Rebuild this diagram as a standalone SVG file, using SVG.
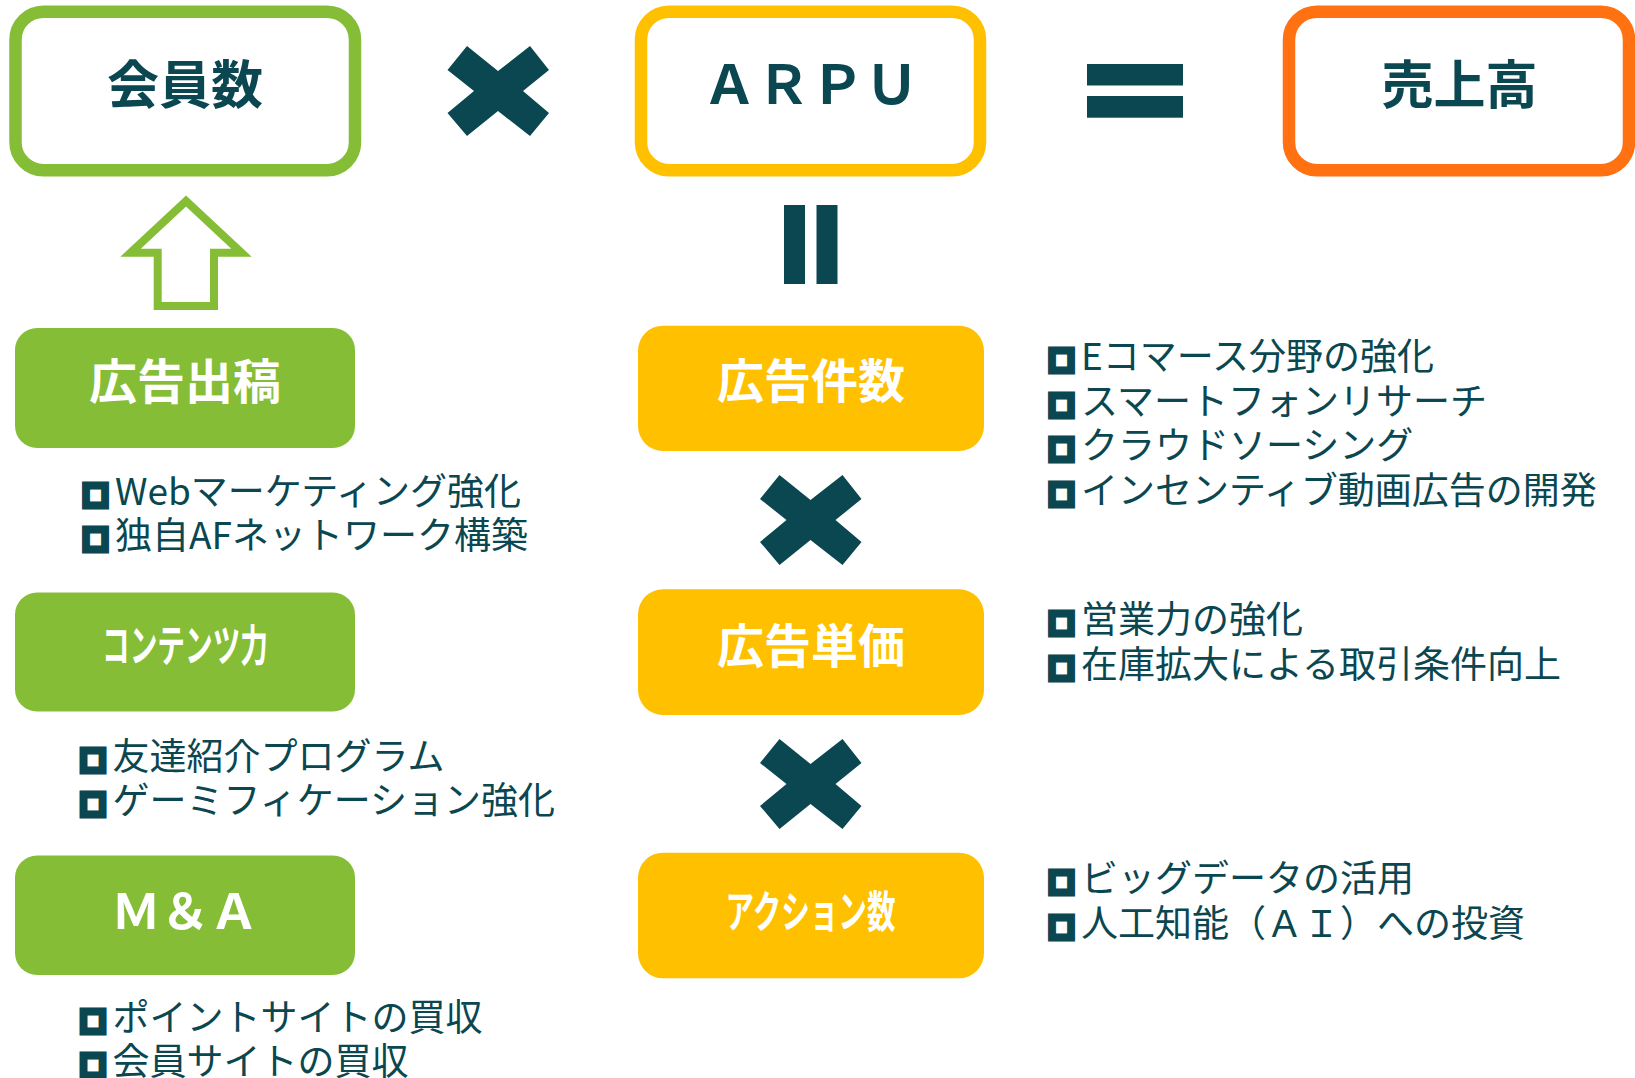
<svg xmlns="http://www.w3.org/2000/svg" xmlns:xlink="http://www.w3.org/1999/xlink" width="1635" height="1078" viewBox="0 0 1635 1078">
<style>
.hd{font-family:"Noto Sans CJK JP","Noto Sans CJK SC",sans-serif;font-weight:700;text-anchor:middle}
.dk{fill:#0A4750}
.wt{fill:#FFFFFF}
.bl{font-family:"Noto Sans CJK JP","Noto Sans CJK SC",sans-serif;font-size:37px;fill:#0A4750}
.bx{font-size:25px;stroke:#0A4750;stroke-width:7;stroke-linejoin:miter}
.gbox{fill:#85BD37}
.ybox{fill:#FFC000}
.op{fill:#0A4750}
</style>
<defs>
<polygon id="xm" points="-31,-45 0,-20 32,-45 51,-21 25,0 51,22 32,45 0,20 -31,45 -50.5,22 -24,0 -50.5,-21"/>
</defs>

<g id="n-members">
<rect x="15.5" y="11.7" width="339.5" height="158.5" rx="28" fill="#FFFFFF" stroke="#85BD37" stroke-width="12.5"/>
<text class="hd dk" x="185" y="103.5" font-size="52">会員数</text>
</g>
<g id="n-arpu">
<rect x="641" y="11.7" width="339" height="158.5" rx="28" fill="#FFFFFF" stroke="#FFC000" stroke-width="12.5"/>
<text class="hd dk" x="810.5" y="103.5" font-size="54">ＡＲＰＵ</text>
</g>
<g id="n-sales">
<rect x="1289" y="11.7" width="340" height="158.5" rx="28" fill="#FFFFFF" stroke="#FF7111" stroke-width="12.5"/>
<text class="hd dk" x="1459.5" y="103.5" font-size="52">売上高</text>
</g>

<g id="n-ad-post">
<rect class="gbox" x="15" y="328" width="340" height="120" rx="22"/>
<text class="hd wt" x="185" y="398.5" font-size="48">広告出稿</text>
</g>
<g id="n-ad-post-items">
<text class="bl" x="83" y="505"><tspan class="bx">□</tspan><tspan dx="7">Webマーケティング強化</tspan></text>
<text class="bl" x="83" y="549"><tspan class="bx">□</tspan><tspan dx="7">独自AFネットワーク構築</tspan></text>
</g>

<g id="n-content">
<rect class="gbox" x="15" y="592.5" width="340" height="119" rx="22"/>
<text class="hd wt" x="185" y="662" font-size="44" textLength="166" lengthAdjust="spacingAndGlyphs">コンテンツ力</text>
</g>
<g id="n-content-items">
<text class="bl" x="80.5" y="770"><tspan class="bx">□</tspan><tspan dx="7">友達紹介プログラム</tspan></text>
<text class="bl" x="80.5" y="814"><tspan class="bx">□</tspan><tspan dx="7">ゲーミフィケーション強化</tspan></text>
</g>

<g id="n-ma">
<rect class="gbox" x="15" y="855.5" width="340" height="119.5" rx="22"/>
<text class="hd wt" x="185" y="929" font-size="49">Ｍ＆Ａ</text>
</g>
<g id="n-ma-items">
<text class="bl" x="80.5" y="1031"><tspan class="bx">□</tspan><tspan dx="7">ポイントサイトの買収</tspan></text>
<text class="bl" x="80.5" y="1075"><tspan class="bx">□</tspan><tspan dx="7">会員サイトの買収</tspan></text>
</g>

<g id="n-ad-count">
<rect class="ybox" x="638" y="325.7" width="346" height="125.3" rx="25"/>
<text class="hd wt" x="811" y="398" font-size="47">広告件数</text>
</g>
<g id="n-ad-count-items">
<text class="bl" x="1049" y="370"><tspan class="bx">□</tspan><tspan dx="7">Eコマース分野の強化</tspan></text>
<text class="bl" x="1049" y="414.5"><tspan class="bx">□</tspan><tspan dx="7">スマートフォンリサーチ</tspan></text>
<text class="bl" x="1049" y="459"><tspan class="bx">□</tspan><tspan dx="7">クラウドソーシング</tspan></text>
<text class="bl" x="1049" y="503.5"><tspan class="bx">□</tspan><tspan dx="7">インセンティブ動画広告の開発</tspan></text>
</g>

<g id="n-ad-price">
<rect class="ybox" x="638" y="589.3" width="346" height="125.7" rx="25"/>
<text class="hd wt" x="811" y="663" font-size="47">広告単価</text>
</g>
<g id="n-ad-price-items">
<text class="bl" x="1049" y="633"><tspan class="bx">□</tspan><tspan dx="7">営業力の強化</tspan></text>
<text class="bl" x="1049" y="678"><tspan class="bx">□</tspan><tspan dx="7">在庫拡大による取引条件向上</tspan></text>
</g>

<g id="n-actions">
<rect class="ybox" x="638" y="852.7" width="346" height="125.6" rx="25"/>
<text class="hd wt" x="810.5" y="928" font-size="44" textLength="170" lengthAdjust="spacingAndGlyphs">アクション数</text>
</g>
<g id="n-actions-items">
<text class="bl" x="1049" y="892"><tspan class="bx">□</tspan><tspan dx="7">ビッグデータの活用</tspan></text>
<text class="bl" x="1049" y="937"><tspan class="bx">□</tspan><tspan dx="7">人工知能（ＡＩ）への投資</tspan></text>
</g>

<g id="connectors">
<use xlink:href="#xm" href="#xm" class="op" transform="translate(498,91)"/>
<rect class="op" x="1087" y="64" width="96" height="21.5"/>
<rect class="op" x="1087" y="96" width="96" height="21.7"/>
<rect class="op" x="784" y="205" width="21" height="79"/>
<rect class="op" x="816.5" y="205" width="21" height="79"/>
<polygon points="186,201 241.5,252.7 214,252.7 214,306 157.7,306 157.7,252.7 130.5,252.7" fill="#FFFFFF" stroke="#85BD37" stroke-width="8" stroke-linejoin="miter"/>
<use xlink:href="#xm" href="#xm" class="op" transform="translate(810.5,520)"/>
<use xlink:href="#xm" href="#xm" class="op" transform="translate(810.5,784)"/>
</g>
</svg>
